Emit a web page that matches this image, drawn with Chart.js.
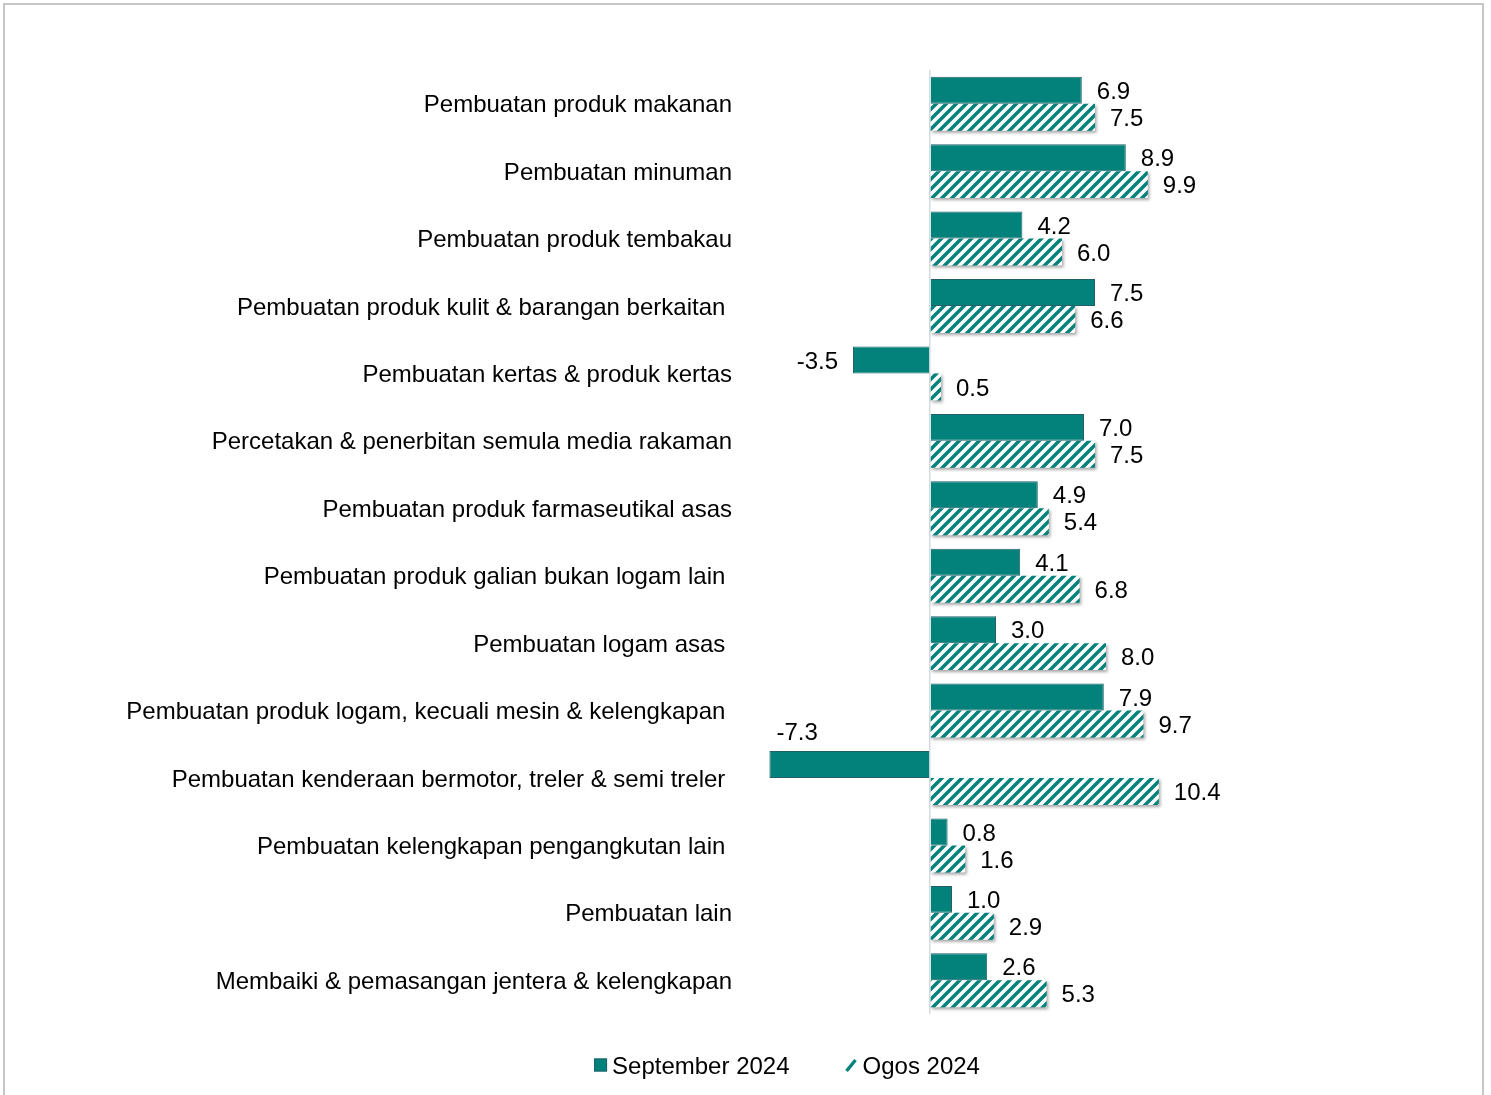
<!DOCTYPE html>
<html>
<head>
<meta charset="utf-8">
<script src="https://cdn.jsdelivr.net/npm/chart.js@4.4.1/dist/chart.umd.min.js"></script>
<style>
  html, body { margin: 0; padding: 0; background: #fff; overflow: hidden; }
  #frame { position: absolute; left: 3px; top: 3px; width: 1481px; height: 1200px; border: 2px solid #c6c6c6; box-sizing: border-box; }
  #c { position: absolute; left: 0; top: 0; }
</style>
</head>
<body>
<div id="frame"></div>
<canvas id="c" width="1491" height="1095"></canvas>
<script>
const categories = [
  "Pembuatan produk makanan",
  "Pembuatan minuman",
  "Pembuatan produk tembakau",
  "Pembuatan produk kulit & barangan berkaitan ",
  "Pembuatan kertas & produk kertas",
  "Percetakan & penerbitan semula media rakaman",
  "Pembuatan produk farmaseutikal asas",
  "Pembuatan produk galian bukan logam lain ",
  "Pembuatan logam asas ",
  "Pembuatan produk logam, kecuali mesin & kelengkapan ",
  "Pembuatan kenderaan bermotor, treler & semi treler ",
  "Pembuatan kelengkapan pengangkutan lain ",
  "Pembuatan lain",
  "Membaiki & pemasangan jentera & kelengkapan"
];
const seriesNames = ["September 2024", "Ogos 2024"];
const september2024 = [6.9, 8.9, 4.2, 7.5, -3.5, 7.0, 4.9, 4.1, 3.0, 7.9, -7.3, 0.8, 1.0, 2.6];
const ogos2024 = [7.5, 9.9, 6.0, 6.6, 0.5, 7.5, 5.4, 6.8, 8.0, 9.7, 10.4, 1.6, 2.9, 5.3];

const TEAL = '#03827b';
const TEAL_BORDER = '#22606b';
const FONT = '"Liberation Sans", Arial, sans-serif';
const FS = 24;

function makeHatch(color) {
  const s = 10;
  const c = document.createElement('canvas');
  c.width = s; c.height = s;
  const x = c.getContext('2d');
  x.fillStyle = '#fff';
  x.fillRect(0, 0, s, s);
  x.strokeStyle = color;
  x.lineWidth = 3.5;
  x.beginPath();
  x.moveTo(-s / 2, s / 2); x.lineTo(s / 2, -s / 2);
  x.moveTo(0, s); x.lineTo(s, 0);
  x.moveTo(s / 2, 1.5 * s); x.lineTo(1.5 * s, s / 2);
  x.stroke();
  return x.createPattern(c, 'repeat');
}
const hatch = makeHatch(TEAL);

const shadowPlugin = {
  id: 'shadow',
  beforeDatasetDraw(chart, args) {
    if (args.index === 1) {
      const ctx = chart.ctx;
      ctx.save();
      ctx.shadowColor = 'rgba(0,0,0,0.35)';
      ctx.shadowBlur = 3;
      ctx.shadowOffsetX = 1.5;
      ctx.shadowOffsetY = 2;
    }
  },
  afterDatasetDraw(chart, args) {
    if (args.index === 1) chart.ctx.restore();
  }
};

const labelPlugin = {
  id: 'valueLabels',
  afterDatasetsDraw(chart) {
    const ctx = chart.ctx;
    const area = chart.chartArea;
    ctx.save();
    ctx.font = FS + 'px ' + FONT;
    ctx.fillStyle = '#000';
    ctx.textBaseline = 'middle';
    chart.data.datasets.forEach((ds, di) => {
      const meta = chart.getDatasetMeta(di);
      meta.data.forEach((el, i) => {
        const v = ds.data[i];
        const txt = v.toFixed(1);
        const w = ctx.measureText(txt).width;
        const y = el.y + 2;
        if (v >= 0) {
          ctx.textAlign = 'left';
          ctx.fillText(txt, el.x + 15, y);
        } else if (el.x - 15 - w >= area.left) {
          ctx.textAlign = 'right';
          ctx.fillText(txt, el.x - 15, y);
        } else {
          ctx.textAlign = 'left';
          ctx.fillText(txt, el.x + 7, y - el.height / 2 - 20);
        }
      });
    });
    ctx.restore();
  }
};

const legendPlugin = {
  id: 'customLegend',
  afterDraw(chart) {
    const ctx = chart.ctx;
    ctx.save();
    ctx.font = FS + 'px ' + FONT;
    ctx.textBaseline = 'middle';
    ctx.textAlign = 'left';
    const w1 = ctx.measureText(seriesNames[0]).width;
    const w2 = ctx.measureText(seriesNames[1]).width;
    const box = 13, gap = 5, spacing = 55;
    const total = box + gap + w1 + spacing + box + gap + w2;
    const cx = 787, cy = 1065;
    let x = cx - total / 2;
    ctx.fillStyle = TEAL;
    ctx.fillRect(x, cy - box / 2, box, box);
    ctx.strokeStyle = TEAL_BORDER;
    ctx.lineWidth = 1;
    ctx.strokeRect(x + 0.5, cy - box / 2 + 0.5, box - 1, box - 1);
    ctx.fillStyle = '#000';
    ctx.fillText(seriesNames[0], x + box + gap, cy + 2);
    x += box + gap + w1 + spacing;
    ctx.strokeStyle = TEAL;
    ctx.lineWidth = 3.4;
    ctx.beginPath();
    ctx.moveTo(x + 2, cy + 6);
    ctx.lineTo(x + 11, cy - 5);
    ctx.stroke();
    ctx.fillStyle = '#000';
    ctx.fillText(seriesNames[1], x + box + gap, cy + 2);
    ctx.restore();
  }
};

new Chart(document.getElementById('c'), {
  type: 'bar',
  data: {
    labels: categories,
    datasets: [
      {
        label: seriesNames[0],
        data: september2024,
        backgroundColor: TEAL,
        borderColor: TEAL_BORDER,
        borderWidth: 1,
        categoryPercentage: 0.8,
        barPercentage: 1.0
      },
      {
        label: seriesNames[1],
        data: ogos2024,
        backgroundColor: hatch,
        borderWidth: 0,
        categoryPercentage: 0.8,
        barPercentage: 1.0
      }
    ]
  },
  options: {
    indexAxis: 'y',
    responsive: false,
    maintainAspectRatio: false,
    animation: false,
    devicePixelRatio: 1,
    layout: { padding: { left: 0, right: 231, top: 70, bottom: 81 } },
    plugins: {
      legend: { display: false },
      tooltip: { enabled: false }
    },
    scales: {
      x: {
        min: -8.5,
        max: 15,
        ticks: { display: false, stepSize: 5 },
        border: { display: false },
        grid: {
          drawTicks: false,
          lineWidth: 1.5,
          color: (c) => (c.tick && c.tick.value === 0) ? '#d6dbe0' : 'rgba(0,0,0,0)'
        }
      },
      y: {
        ticks: {
          font: { family: FONT, size: FS },
          color: '#000',
          padding: 11,
          labelOffset: 2
        },
        grid: { display: false, drawTicks: false },
        border: { display: false },
        afterFit(scale) { scale.width = 743; }
      }
    }
  },
  plugins: [shadowPlugin, labelPlugin, legendPlugin]
});
</script>
</body>
</html>
